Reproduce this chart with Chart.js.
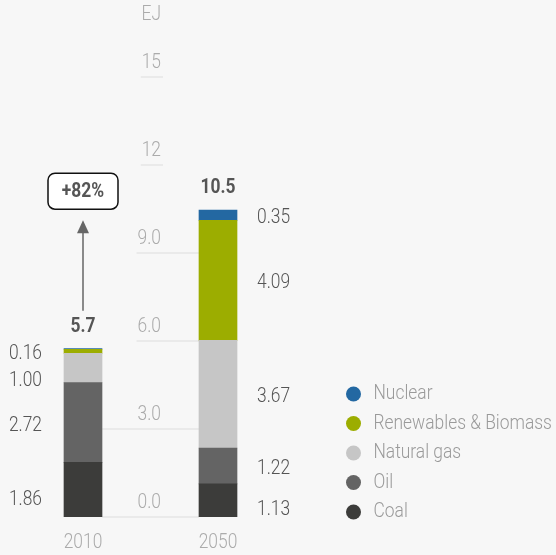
<!DOCTYPE html>
<html>
<head>
<meta charset="utf-8">
<script src="https://cdn.jsdelivr.net/npm/chart.js@4"></script>
<style>
  html, body { margin: 0; padding: 0; background: #f7f7f7; }
  #wrap { width: 556px; height: 555px; }
</style>
</head>
<body>
<div id="wrap"><canvas id="chart"></canvas></div>
<script>
// --- Data ---
const years = ['2010', '2050'];
const sources = ['Coal', 'Oil', 'Natural gas', 'Renewables & Biomass', 'Nuclear'];
const coal = [1.86, 1.13];
const oil = [2.72, 1.22];
const gas = [1.00, 3.67];
const renewables = [0.14, 4.09];
const nuclear = [0.02, 0.35];
const segmentLabels = [
    ['1.86', '2.72', '1.00', '0.16', ''],
    ['1.13', '1.22', '3.67', '4.09', '0.35']
];
const totals = ['5.7', '10.5'];
const growthLabel = '+82%';
const yTicks = [0, 3, 6, 9, 12, 15];
const yTickLabels = ['0.0', '3.0', '6.0', '9.0', '12', '15'];
const unitLabel = 'EJ';

const colors = ['#3c3c3a', '#646464', '#c6c6c6', '#9cad00', '#2368a2'];
const FONT = 'Roboto, sans-serif';
const SX = 0.87; // squeeze text horizontally, original uses a condensed face

// text drawn narrower to look condensed
function squeezeText(ctx, txt, x, y, align) {
    ctx.save();
    ctx.translate(x, y);
    ctx.scale(SX, 1);
    ctx.textAlign = align;
    ctx.fillText(txt, 0, 0);
    ctx.restore();
}

// --- Custom drawing: grid, ticks, labels, arrow, legend ---
const decor = {
    id: 'decor',
    beforeDatasetsDraw(chart) {
        const ctx = chart.ctx;
        const y = chart.scales.y;
        const m0 = chart.getDatasetMeta(0).data;
        const bar0 = m0[0], bar1 = m0[1];
        const stackTop = years.map((_, j) => chart.data.datasets.reduce((s, d) => s + d.data[j], 0));
        const labelRight = (bar0.x + bar1.x) / 2 + 10.5;

        ctx.save();
        ctx.font = '300 20px ' + FONT;
        ctx.textBaseline = 'middle';
        yTicks.forEach((v, i) => {
            const py = y.getPixelForValue(v);
            const w = ctx.measureText(yTickLabels[i]).width * SX;
            const left = v < stackTop[0] ? bar0.x + bar0.width / 2 : labelRight - w - 1;
            const right = v < stackTop[1] ? bar1.x - bar1.width / 2 : labelRight + 2;
            ctx.strokeStyle = '#e6e6e6';
            ctx.lineWidth = 1.5;
            ctx.beginPath();
            ctx.moveTo(left, py);
            ctx.lineTo(right, py);
            ctx.stroke();
            ctx.fillStyle = '#ababab';
            squeezeText(ctx, yTickLabels[i], labelRight, py - 14, 'right');
        });
        squeezeText(ctx, unitLabel, labelRight, y.top - 62, 'right');
        ctx.restore();
    },
    afterDatasetsDraw(chart) {
        const ctx = chart.ctx;
        const y = chart.scales.y;
        const n = chart.data.datasets.length;
        ctx.save();
        ctx.textBaseline = 'middle';

        // segment value labels
        ctx.font = '300 20px ' + FONT;
        ctx.fillStyle = '#555';
        years.forEach((_, j) => {
            let prev = -Infinity;
            for (let i = n - 1; i >= 0; i--) {
                const txt = segmentLabels[j][i];
                if (!txt) continue;
                const el = chart.getDatasetMeta(i).data[j];
                const cy = Math.max((el.y + el.base) / 2 + (i === 0 ? 10 : 3), prev + 27);
                prev = cy;
                if (j === 0) {
                    squeezeText(ctx, txt, el.x - el.width / 2 - 22, cy, 'right');
                } else {
                    squeezeText(ctx, txt, el.x + el.width / 2 + 20, cy, 'left');
                }
            }
        });

        // totals
        const tops = years.map((_, j) => chart.getDatasetMeta(n - 1).data[j]);
        ctx.font = 'bold 20px ' + FONT;
        tops.forEach((el, j) => squeezeText(ctx, totals[j], el.x, el.y - 22, 'center'));

        // growth box + arrow
        const bx = tops[0].x, by = tops[1].y - 19;
        const bw = 70, bh = 36;
        ctx.beginPath();
        ctx.roundRect(bx - bw / 2, by - bh / 2, bw, bh, 7);
        ctx.fillStyle = '#ffffff';
        ctx.fill();
        ctx.lineWidth = 1.5;
        ctx.strokeStyle = '#111';
        ctx.stroke();
        ctx.fillStyle = '#555';
        squeezeText(ctx, growthLabel, bx, by + 1, 'center');

        const tipY = by + bh / 2 + 11;
        const baseY = tops[0].y - 38;
        ctx.strokeStyle = '#666';
        ctx.lineWidth = 1.5;
        ctx.beginPath();
        ctx.moveTo(bx, baseY);
        ctx.lineTo(bx, tipY + 10);
        ctx.stroke();
        ctx.fillStyle = '#666';
        ctx.beginPath();
        ctx.moveTo(bx, tipY);
        ctx.lineTo(bx - 6, tipY + 13);
        ctx.lineTo(bx + 6, tipY + 13);
        ctx.closePath();
        ctx.fill();

        // x labels
        ctx.font = '300 20px ' + FONT;
        ctx.fillStyle = '#ababab';
        tops.forEach((el, j) => squeezeText(ctx, years[j], el.x, y.bottom + 26, 'center'));

        // legend
        const lx = chart.chartArea.right + 68;
        let ly = y.getPixelForValue(0) - 123;
        for (let i = n - 1; i >= 0; i--) {
            ctx.fillStyle = colors[i];
            ctx.beginPath();
            ctx.arc(lx, ly, 7.5, 0, Math.PI * 2);
            ctx.fill();
            ctx.fillStyle = '#9a9a9a';
            squeezeText(ctx, sources[i], lx + 20, ly, 'left');
            ly += 29.5;
        }
        ctx.restore();
    }
};

new Chart(document.getElementById('chart'), {
    type: 'bar',
    data: {
        labels: years,
        datasets: [
            { label: sources[0], data: coal, backgroundColor: colors[0] },
            { label: sources[1], data: oil, backgroundColor: colors[1] },
            { label: sources[2], data: gas, backgroundColor: colors[2] },
            { label: sources[3], data: renewables, backgroundColor: colors[3] },
            { label: sources[4], data: nuclear, backgroundColor: colors[4] }
        ]
    },
    options: {
        responsive: true,
        maintainAspectRatio: false,
        animation: false,
        barThickness: 38,
        layout: { padding: { left: 15.5, right: 270.5, top: 77, bottom: 38 } },
        scales: {
            x: { stacked: true, display: false },
            y: { stacked: true, display: false, min: 0, max: 15 }
        },
        plugins: { legend: { display: false }, tooltip: { enabled: false } }
    },
    plugins: [decor]
});
</script>
</body>
</html>
